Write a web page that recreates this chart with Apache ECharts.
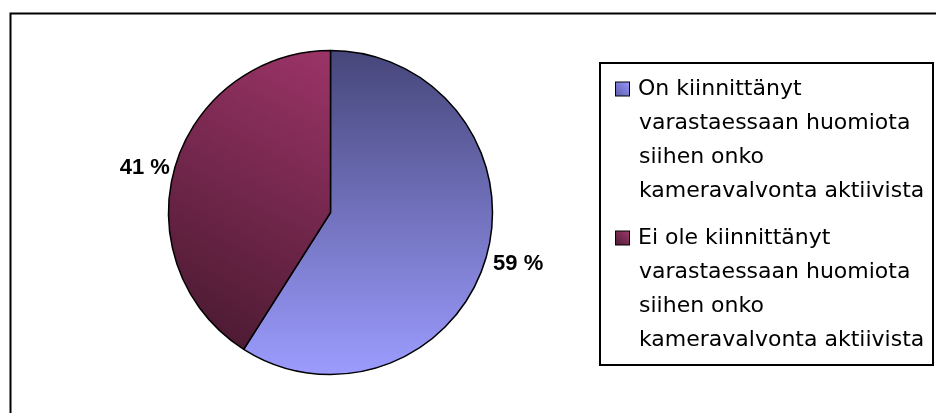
<!DOCTYPE html>
<html>
<head>
<meta charset="utf-8">
<script src="https://cdn.jsdelivr.net/npm/echarts@6/dist/echarts.min.js"></script>
<style>
	body { margin: 0; background: #fff; }
	#pieEchart { width: 936px; height: 413px; }
</style>
</head>
<body>
<div id="pieEchart"></div>
<script>
//数据
var categories = [
	'On kiinnittänyt\nvarastaessaan huomiota\nsiihen onko\nkameravalvonta aktiivista',
	'Ei ole kiinnittänyt\nvarastaessaan huomiota\nsiihen onko\nkameravalvonta aktiivista'
];
var values = [59, 41];

//渐变色
var blueFill = new echarts.graphic.LinearGradient(0, 0, 0, 1, [
	{ offset: 0, color: '#46467a' },
	{ offset: 1, color: '#9c9cff' }
]);
var redFill = new echarts.graphic.LinearGradient(1, 0, 0, 1, [
	{ offset: 0, color: '#9c3468' },
	{ offset: 1, color: '#45182d' }
]);
var blueIcon = new echarts.graphic.LinearGradient(1, 0, 0, 1, [
	{ offset: 0, color: '#9999ff' },
	{ offset: 1, color: '#5a5aa8' }
]);
var redIcon = new echarts.graphic.LinearGradient(1, 0, 0, 1, [
	{ offset: 0, color: '#a33a6e' },
	{ offset: 1, color: '#4a1a32' }
]);
var fills = [blueFill, redFill];
//标签微调
var labelOffsets = [[2, 6], [0, 1]];

var pieEchart = echarts.init(document.getElementById('pieEchart'));

var seriesData = [];
for (var i = 0; i < categories.length; i++) {
	seriesData.push({
		value: values[i],
		name: categories[i],
		itemStyle: { color: fills[i] },
		label: { offset: labelOffsets[i] }
	});
}

var pieOption = {
	animation: false,
	graphic: [{
		type: 'rect',
		silent: true,
		shape: { x: 10.5, y: 13.5, width: 980, height: 460 },
		style: { fill: 'none', stroke: '#000', lineWidth: 2 }
	}],
	legend: {
		orient: 'vertical',
		left: 600,
		top: 63,
		padding: [15, 4, 14, 10],
		borderColor: '#000',
		borderWidth: 2,
		itemGap: 25,
		itemWidth: 0,
		itemHeight: 0,
		selectedMode: false,
		data: categories,
		formatter: function(name) {
			var idx = categories.indexOf(name);
			var lines = name.split('\n');
			var out = [];
			for (var k = 0; k < lines.length; k++) {
				if (k === 0) {
					out.push('{sq' + idx + '|}{g|}{t|' + lines[k] + '}');
				} else {
					out.push('{p|}{t|' + lines[k] + '}');
				}
			}
			return out.join('\n');
		},
		textStyle: {
			rich: {
				sq0: { width: 13, height: 13, backgroundColor: blueIcon, borderColor: '#000', borderWidth: 1 },
				sq1: { width: 13, height: 13, backgroundColor: redIcon, borderColor: '#000', borderWidth: 1 },
				g: { width: 9, lineHeight: 34 },
				p: { width: 23, lineHeight: 34 },
				t: {
					fontSize: 22,
					fontFamily: 'DejaVu Sans',
					color: '#000',
					lineHeight: 34,
					width: 290
				}
			}
		}
	},
	series: [{
		type: 'pie',
		center: [330.5, 212.5],
		radius: 162,
		startAngle: 90,
		clockwise: true,
		avoidLabelOverlap: false,
		emphasis: { disabled: true },
		itemStyle: {
			borderColor: '#000',
			borderWidth: 1.5
		},
		label: {
			show: true,
			position: 'outside',
			formatter: '{c} %',
			fontFamily: 'Liberation Sans',
			fontWeight: 'bold',
			fontSize: 22,
			color: '#000'
		},
		labelLine: {
			show: false,
			length: 0,
			length2: 0
		},
		data: seriesData
	}]
};
pieEchart.setOption(pieOption);
</script>
</body>
</html>
